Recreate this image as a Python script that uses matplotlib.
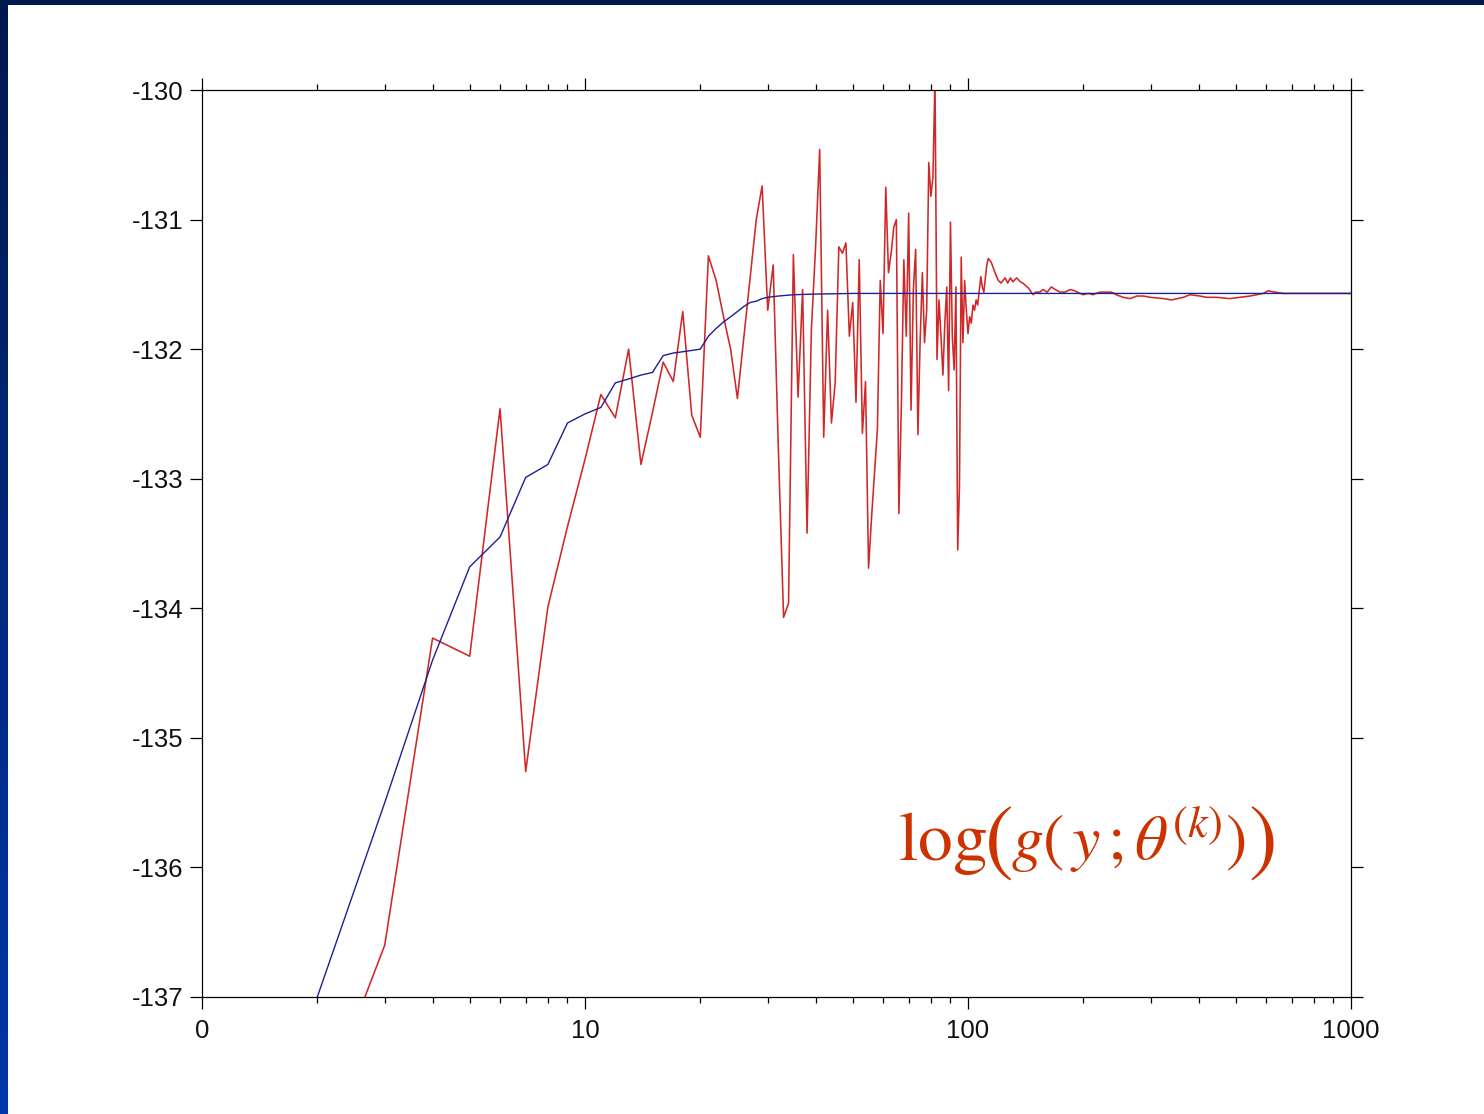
import numpy as np
import matplotlib
matplotlib.use("Agg")
import matplotlib.pyplot as plt
from matplotlib.ticker import FixedLocator, FixedFormatter, LogLocator, NullFormatter, NullLocator

plt.rcParams['mathtext.fontset'] = 'stix'

# ---------------- data ----------------
# red: log-likelihood of the stochastic iterates, k = 1..112, then read-off checkpoints
red_k_early = list(range(1, 113))
red_v_early = [
    -142.0, -137.96, -136.6, -134.23, -134.37, -132.46, -135.26, -133.99, -133.37, -132.85,
    -132.35, -132.53, -132.0, -132.89, -132.49, -132.1, -132.25, -131.71, -132.51, -132.68,
    -131.28, -131.47, -131.75, -132.0, -132.38, -131.9, -131.44, -131.0, -130.74, -131.7,
    -131.35, -132.8, -134.07, -133.96, -131.27, -132.37, -131.54, -133.42, -131.85, -131.21,
    -130.46, -132.68, -131.7, -132.57, -132.26, -131.21, -131.26, -131.18, -131.9, -131.64,
    -132.41, -131.31, -132.65, -132.25, -133.69, -133.3, -132.96, -132.62, -131.47, -131.88,
    -130.75, -131.41, -131.26, -131.06, -131.0, -133.27, -132.42, -131.31, -131.9, -130.95,
    -132.47, -131.54, -131.23, -132.66, -131.93, -131.41, -131.95, -131.7, -130.56, -130.82,
    -130.67, -129.9, -132.08, -131.62, -131.9, -132.2, -131.8, -131.52, -132.32, -131.02,
    -131.9, -132.16, -131.52, -133.55, -133.06, -131.29, -131.95, -131.47, -131.7, -131.88,
    -131.75, -131.8, -131.66, -131.7, -131.62, -131.66, -131.55, -131.44, -131.52, -131.56,
    -131.45, -131.35,
]
red_k_late = [113, 115, 118, 120, 122, 125, 127, 129, 131, 134, 137, 139, 144, 147, 148, 150,
              154, 157, 161, 165, 169, 174, 179, 185, 190, 196, 200, 206, 212, 221, 230, 237,
              244, 254, 265, 276, 287, 299, 324, 340, 365, 380, 403, 420, 446, 483, 513, 545,
              590, 608, 633, 666, 736, 814, 1000]
red_v_late = [-131.30, -131.33, -131.42, -131.47, -131.49, -131.45, -131.49, -131.45, -131.48,
              -131.45, -131.48, -131.49, -131.53, -131.57, -131.58, -131.56, -131.56, -131.54,
              -131.56, -131.52, -131.54, -131.56, -131.56, -131.54, -131.55, -131.57, -131.58,
              -131.57, -131.58, -131.56, -131.56, -131.56, -131.58, -131.60, -131.61, -131.59,
              -131.59, -131.60, -131.61, -131.62, -131.60, -131.58, -131.59, -131.60, -131.60,
              -131.61, -131.60, -131.59, -131.57, -131.55, -131.56, -131.57, -131.57, -131.57,
              -131.57]

# blue: smoothed (averaged) sequence
blue_k = [1, 2, 3, 4, 5, 6, 7, 8, 9, 10, 11, 12, 13, 14, 15, 16, 17, 18, 19, 20,
          21, 22, 23, 24, 25, 26, 27, 28, 29, 30, 32, 35, 40, 50, 60, 100, 1000]
blue_v = [-141.0, -137.0, -135.5, -134.4, -133.68, -133.45, -132.99, -132.89, -132.57, -132.5,
          -132.45, -132.26, -132.23, -132.2, -132.18, -132.05, -132.03, -132.02, -132.01, -132.0,
          -131.9, -131.84, -131.79, -131.75, -131.71, -131.67, -131.64, -131.63, -131.61, -131.6,
          -131.59, -131.58, -131.575, -131.57, -131.57, -131.57, -131.57]

x_ticks = [1, 10, 100, 1000]
x_ticklabels = ["0", "10", "100", "1000"]
y_ticks = [-137, -136, -135, -134, -133, -132, -131, -130]
y_ticklabels = ["-137", "-136", "-135", "-134", "-133", "-132", "-131", "-130"]
ann_log = r'$\mathrm{log}$'
ann_open = r'$($'
ann_inner = r'$g(\,y\,;\theta^{(k)})$'
ann_close = r'$)$'

# ---------------- figure ----------------
W, H = 1484, 1114
fig = plt.figure(figsize=(W / 100, H / 100), dpi=100)
fig.patch.set_facecolor('white')

# slide frame: left gradient bar and top band
bar = fig.add_axes([0, 0, 8 / W, 1])
grad = np.linspace(0, 1, 256)[:, None]
top_c = np.array([0, 24, 80]) / 255
bot_c = np.array([0, 56, 168]) / 255
img = top_c[None, None, :] * (1 - grad[:, :, None]) + bot_c[None, None, :] * grad[:, :, None]
bar.imshow(img, aspect='auto', extent=[0, 1, 0, 1])
bar.set_axis_off()
topband = fig.add_axes([0, 1 - 5 / H, 1, 5 / H])
topband.set_facecolor('#001a4e')
topband.set_xticks([]); topband.set_yticks([])
for s in topband.spines.values():
    s.set_visible(False)

# main axes
x0, x1, y0, y1 = 202, 1351, 90, 997
ax = fig.add_axes([x0 / W, 1 - y1 / H, (x1 - x0) / W, (y1 - y0) / H])
ax.plot(red_k_early + red_k_late, red_v_early + red_v_late, color='#cf2828', lw=1.15, zorder=2)
ax.plot(blue_k, blue_v, color='#1e1e96', lw=1.0, zorder=3)

ax.set_xscale('log')
ax.set_xlim(1, 1000)
ax.set_ylim(-137, -130)

ax.xaxis.set_major_locator(FixedLocator(x_ticks))
ax.xaxis.set_major_formatter(FixedFormatter(x_ticklabels))
ax.xaxis.set_minor_locator(LogLocator(base=10, subs=np.arange(2, 10)))
ax.xaxis.set_minor_formatter(NullFormatter())
ax.yaxis.set_major_locator(FixedLocator(y_ticks))
ax.yaxis.set_major_formatter(FixedFormatter(y_ticklabels))
ax.yaxis.set_minor_locator(NullLocator())

for s in ax.spines.values():
    s.set_linewidth(0.9)
    s.set_color('black')

ax.tick_params(which='both', direction='out', top=True, right=True,
               labeltop=False, labelright=False, width=0.9, color='black')
ax.tick_params(which='major', length=8.5)
ax.tick_params(which='minor', length=4.5)
ax.tick_params(axis='x', which='major', pad=7)
ax.tick_params(axis='y', which='major', pad=5)
for lab in ax.get_xticklabels() + ax.get_yticklabels():
    lab.set_fontfamily('Liberation Sans')
    lab.set_fontsize(18.5)
    lab.set_color('#111111')

# annotation built from pieces so the outer parentheses can be taller
renderer = fig.canvas.get_renderer()
ann_color = '#cc3300'
base_y = 1 - 860 / H
xpos = 898
pieces = [(ann_log, 50, 0, 0), (ann_open, 62, -3, 5), (ann_inner, 46, -1, 0), (ann_close, 62, 3, 5)]
for txt, fs, gap_before, dy in pieces:
    xpos += gap_before
    t = fig.text(xpos / W, base_y - dy / H, txt, fontsize=fs, color=ann_color,
                 ha='left', va='baseline')
    bb = t.get_window_extent(renderer=renderer)
    xpos = bb.x1

fig.savefig('out.png', dpi=100, facecolor='white')
